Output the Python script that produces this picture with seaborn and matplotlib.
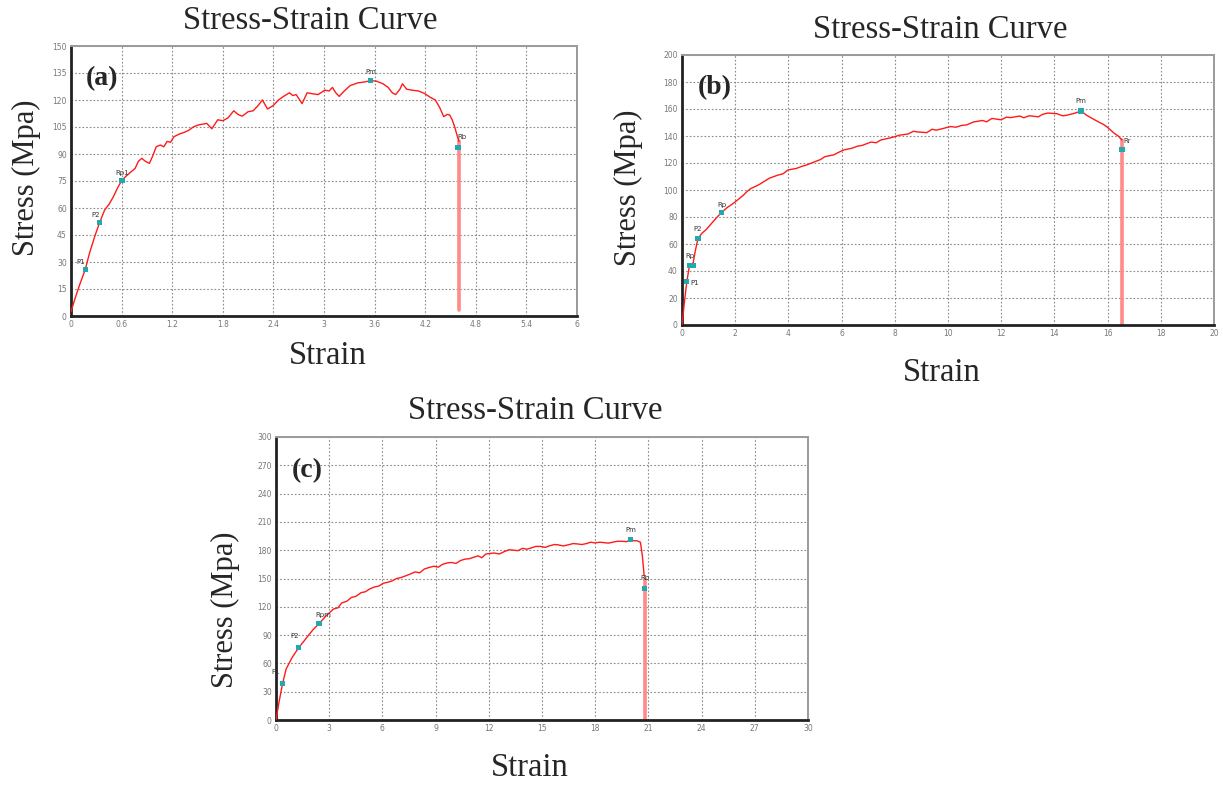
import matplotlib
matplotlib.use("Agg")
import matplotlib.pyplot as plt
import seaborn as sns

# --- stile ---
sns.set_style("white")
plt.rcParams['font.family'] = ['Liberation Serif', 'DejaVu Serif']

# --- dati ---
# (a)
strain_a = [0, 0.05, 0.10, 0.17, 0.22, 0.28, 0.34, 0.40, 0.45, 0.50, 0.55, 0.605, 0.66, 0.71,
            0.76, 0.80, 0.84, 0.88, 0.93, 0.97, 1.01, 1.06, 1.10, 1.14, 1.18, 1.22, 1.28, 1.34,
            1.39, 1.45, 1.50, 1.55, 1.61, 1.67, 1.74, 1.80, 1.86, 1.93, 1.98, 2.03, 2.10, 2.16,
            2.22, 2.27, 2.33, 2.40, 2.46, 2.52, 2.59, 2.63, 2.67, 2.74, 2.80, 2.86, 2.93, 3.01,
            3.06, 3.10, 3.14, 3.18, 3.24, 3.31, 3.40, 3.48, 3.55, 3.62, 3.70, 3.76, 3.81, 3.85,
            3.90, 3.93, 3.98, 4.04, 4.12, 4.19, 4.26, 4.32, 4.37, 4.42, 4.46, 4.49, 4.52, 4.55,
            4.58, 4.60]
stress_a = [2.4, 10, 17, 26, 35, 44, 52, 59, 62, 66, 71, 75.5, 78, 80,
            82, 86, 87.6, 86, 84.8, 89, 94, 95, 94, 97, 96.5, 99.6, 101, 102,
            103, 105, 106, 106.5, 107, 104, 109, 108.5, 110, 114, 112, 111, 113.5, 114,
            117, 120, 115, 117, 120, 122, 124, 122.5, 123, 118, 124, 123.5, 123, 125.5,
            125, 127, 124, 122, 125, 128, 129.5, 130, 130.7, 130.5, 129, 127, 124, 123,
            126, 129, 126, 125.5, 125, 123.7, 121.5, 120, 116, 110.7, 112, 111.7, 109, 105,
            100, 97]
mark_x_a = [0.17, 0.34, 0.605, 3.55, 4.59]
mark_y_a = [26, 52, 75.5, 130.7, 93.7]
mark_lab_a = ["P1", "P2", "Rp1", "Pm", "Rb"]
frac_a = [4.60, 97, 3.5]

# (b)
strain_b = [0, 0.08, 0.18, 0.28, 0.42, 0.50, 0.60, 0.75, 0.91, 1.10, 1.30, 1.49, 1.70, 1.85,
            2.02, 2.30, 2.45, 2.58, 2.90, 3.10, 3.28, 3.60, 3.80, 3.98, 4.30, 4.50, 4.68, 5.00,
            5.20, 5.37, 5.70, 5.90, 6.07, 6.40, 6.60, 6.77, 7.10, 7.30, 7.47, 7.80, 8.00, 8.17,
            8.50, 8.70, 8.86, 9.20, 9.40, 9.56, 9.80, 10.10, 10.30, 10.50, 10.70, 10.96, 11.30,
            11.45, 11.65, 12.00, 12.20, 12.35, 12.70, 12.85, 13.05, 13.40, 13.55, 13.75, 14.10,
            14.30, 14.45, 14.75, 15.00, 15.20, 15.42, 15.70, 15.85, 15.98, 16.25, 16.40, 16.54]
stress_b = [0, 15, 32, 44, 46, 55, 64, 68, 70.7, 75, 79.5, 83.4, 87, 89,
            91.5, 96, 99, 101, 104, 106.5, 108.7, 111, 112, 114.8, 116, 117.5, 118.5, 121,
            122.5, 124.7, 126, 128, 129.6, 131, 132.5, 133, 135.5, 135, 137, 138.5, 139.5, 140.6,
            141.5, 143.5, 143, 142.5, 145, 144.3, 145.5, 147, 146.5, 147.8, 148.2, 150.4, 151.5,
            150.5, 153, 152, 154, 153.6, 154.8, 153.5, 155, 154.2, 156, 157, 156.5,
            155, 155.3, 156.8, 158.5, 155.5, 153, 150, 148.5, 146.7, 142, 140, 137]
mark_x_b = [0.18, 0.28, 0.42, 0.60, 1.49, 15.0, 16.54]
mark_y_b = [32, 44, 44, 64, 83.4, 158.5, 130]
mark_lab_b = ["P1", "Rp", "", "P2", "Rp", "Pm", "Rr"]
frac_b = [16.54, 137, 0]

# (c)
strain_c = [0, 0.16, 0.37, 0.57, 0.90, 1.29, 1.55, 1.80, 2.10, 2.42, 2.80, 3.24, 3.50, 3.70,
            4.00, 4.26, 4.50, 4.80, 5.05, 5.29, 5.55, 5.80, 6.05, 6.31, 6.55, 6.80, 7.05, 7.34,
            7.60, 7.85, 8.10, 8.36, 8.60, 8.90, 9.15, 9.39, 9.65, 9.90, 10.15, 10.40, 10.65,
            10.90, 11.15, 11.40, 11.60, 11.84, 12.05, 12.30, 12.60, 12.87, 13.15, 13.40, 13.65,
            13.90, 14.15, 14.40, 14.65, 14.92, 15.20, 15.40, 15.70, 15.94, 16.20, 16.50, 16.75,
            16.97, 17.25, 17.50, 17.75, 17.99, 18.25, 18.50, 18.75, 19.00, 19.25, 19.50, 19.75,
            20.00, 20.20, 20.35, 20.55, 20.66, 20.76]
stress_c = [0, 18, 38.6, 54, 66, 77, 83, 89, 96, 102, 110, 117.6, 119, 124,
            126, 130, 131, 135, 136, 139, 141, 142, 145, 146, 147.5, 150, 151, 153,
            155, 157, 156, 160, 161.5, 163, 162, 165, 166.5, 167, 166, 169, 170.5,
            171, 172.5, 174, 172, 176, 176.5, 177, 176, 178.5, 180.5, 180, 179.5,
            182, 181, 182.5, 184, 184, 183, 184.5, 186, 185.6, 184.5, 185.8, 187,
            186.7, 186, 187, 188.5, 187.7, 188.5, 188, 187.5, 188.5, 189.5, 189.5, 189,
            191, 190, 190, 188.5, 174, 153]
mark_x_c = [0.37, 1.29, 2.42, 20.0, 20.8]
mark_y_c = [38.6, 77, 102, 191, 139]
mark_lab_c = ["P1", "P2", "Rpm", "Pm", "Rb"]
frac_c = [20.8, 150, 0]

xt_a = [0, 0.6, 1.2, 1.8, 2.4, 3, 3.6, 4.2, 4.8, 5.4, 6]
xtl_a = ["0", "0.6", "1.2", "1.8", "2.4", "3", "3.6", "4.2", "4.8", "5.4", "6"]
yt_a = [0, 15, 30, 45, 60, 75, 90, 105, 120, 135, 150]
xt_b = [0, 2, 4, 6, 8, 10, 12, 14, 16, 18, 20]
yt_b = [0, 20, 40, 60, 80, 100, 120, 140, 160, 180, 200]
xt_c = [0, 3, 6, 9, 12, 15, 18, 21, 24, 27, 30]
yt_c = [0, 30, 60, 90, 120, 150, 180, 210, 240, 270, 300]

LINE = "#ff1a1a"
FRAC = "#ff8a8a"
MARK = "#23a9ad"

fig = plt.figure(figsize=(12.23, 7.87), dpi=100)


def pannello(rect, strain, stress, frac, mx, my, mlab, offs, xt, xtl, yt, tag):
    ax = fig.add_axes(rect)
    # linea di rottura (verticale chiara)
    sns.lineplot(x=[frac[0], frac[0]], y=[frac[1], frac[2]], ax=ax, color=FRAC,
                 lw=2.6, sort=False, estimator=None, zorder=2)
    sns.lineplot(x=strain, y=stress, ax=ax, color=LINE, lw=1.0, sort=False,
                 estimator=None, zorder=3)
    sns.scatterplot(x=mx, y=my, ax=ax, color=MARK, marker='s', s=14,
                    edgecolor='none', zorder=4)
    for x, y, l, o in zip(mx, my, mlab, offs):
        if l:
            ax.annotate(l, (x, y), xytext=o, textcoords='offset points', fontsize=5,
                        color='#333', family='DejaVu Sans', ha='center', va='bottom')
    ax.set_xlim(xt[0], xt[-1])
    ax.set_ylim(yt[0], yt[-1])
    ax.set_xticks(xt)
    ax.set_xticklabels(xtl if xtl else [str(v) for v in xt])
    ax.set_yticks(yt)
    ax.tick_params(labelsize=5.5, labelcolor='#777', length=0, pad=3)
    for lab in ax.get_xticklabels() + ax.get_yticklabels():
        lab.set_family('DejaVu Sans')
    ax.grid(True, color='#8a8a8a', linestyle=(0, (1.5, 1.8)), lw=0.8)
    for s in ['left', 'bottom']:
        ax.spines[s].set_color('#222')
        ax.spines[s].set_linewidth(2.0)
    for s in ['top', 'right']:
        ax.spines[s].set_color('#9a9a9a')
        ax.spines[s].set_linewidth(1.4)
    ax.set_xlabel('')
    ax.set_ylabel('')
    ax.text(0.03, 0.88, tag, transform=ax.transAxes, fontsize=20, fontweight='bold',
            va='center', ha='left')
    return ax


W, H = 1223, 787


def rect(l, r, t, b):
    return [l / W, 1 - b / H, (r - l) / W, (b - t) / H]


pannello(rect(71, 577, 46, 316), strain_a, stress_a, frac_a, mark_x_a, mark_y_a, mark_lab_a,
         [(-3, 3), (-3, 3), (0, 3), (0, 4), (3, 5)], xt_a, xtl_a, yt_a, "(a)")
pannello(rect(682, 1214, 55, 325), strain_b, stress_b, frac_b, mark_x_b, mark_y_b, mark_lab_b,
         [(6, -3), (0, 5), (0, 0), (0, 5), (0, 3), (0, 5), (4, 4)], xt_b, None, yt_b, "(b)")
pannello(rect(276, 808, 437, 720), strain_c, stress_c, frac_c, mark_x_c, mark_y_c, mark_lab_c,
         [(-5, 6), (-3, 6), (3, 4), (0, 5), (0, 6)], xt_c, None, yt_c, "(c)")

# titoli ed etichette
for tx, ty in [(310, 21), (940, 30), (535, 411)]:
    fig.text(tx / W, 1 - ty / H, "Stress-Strain Curve", fontsize=23.5, ha='center', va='center')
for tx, ty in [(328, 356), (942, 373), (530, 768)]:
    fig.text(tx / W, 1 - ty / H, "Strain", fontsize=23.5, ha='center', va='center')
for tx, ty in [(26, 178), (628, 188), (225, 610)]:
    fig.text(tx / W, 1 - ty / H, "Stress (Mpa)", fontsize=22, ha='center', va='center',
             rotation=90)

fig.savefig("out.png", dpi=100)
